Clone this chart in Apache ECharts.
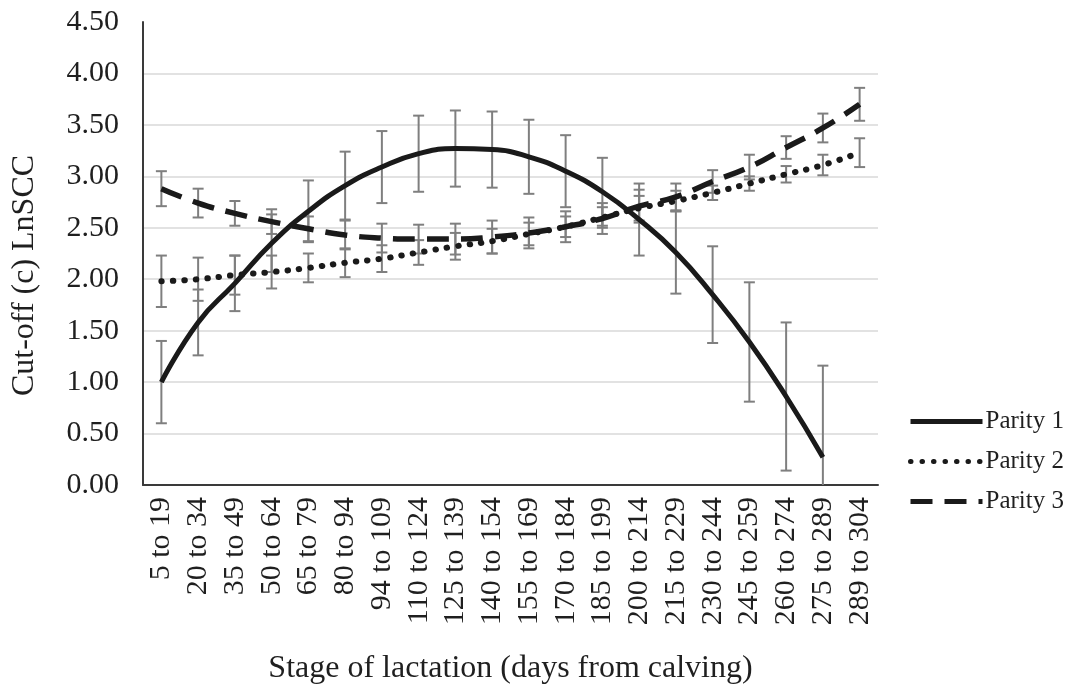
<!DOCTYPE html>
<html><head><meta charset="utf-8">
<script src="https://cdn.jsdelivr.net/npm/echarts@6/dist/echarts.min.js"></script>
<style>html,body{margin:0;padding:0;background:#fff}#c{width:1069px;height:684px}</style>
</head><body><div id="c"></div>
<script>
const categories = ['5 to 19','20 to 34','35 to 49','50 to 64','65 to 79','80 to 94','94 to 109','110 to 124','125 to 139','140 to 154','155 to 169','170 to 184','185 to 199','200 to 214','215 to 229','230 to 244','245 to 259','260 to 274','275 to 289','289 to 304'];
const parity1 = [1.00,1.58,1.96,2.35,2.66,2.91,3.09,3.22,3.27,3.26,3.19,3.05,2.85,2.58,2.26,1.85,1.39,0.86,0.27,null];
const parity1Err = [0.40,0.32,0.27,0.28,0.30,0.33,0.35,0.37,0.37,0.37,0.36,0.35,0.33,0.35,0.40,0.47,0.58,0.72,0.89,null];
const parity2 = [1.98,2.00,2.04,2.07,2.11,2.16,2.20,2.26,2.32,2.37,2.44,2.51,2.60,2.69,2.76,2.84,2.93,3.02,3.11,3.23];
const parity2Err = [0.25,0.21,0.19,0.16,0.14,0.14,0.13,0.12,0.13,0.12,0.11,0.10,0.10,0.12,0.10,0.07,0.07,0.08,0.10,0.14];
const parity3 = [2.88,2.74,2.64,2.56,2.49,2.43,2.40,2.39,2.39,2.41,2.45,2.51,2.59,2.71,2.80,2.95,3.09,3.28,3.47,3.70];
const parity3Err = [0.17,0.14,0.12,0.12,0.12,0.14,0.14,0.14,0.15,0.16,0.15,0.15,0.15,0.16,0.13,0.11,0.12,0.11,0.14,0.16];
const yTicks = {min:0, max:4.5, interval:0.5};

const FONT = 'Liberation Serif';
const TXT = '#1f1f1f';
const LINE = '#1a1a1a';

function errData(vals, errs){
  const out = [];
  vals.forEach((v,i)=>{ if(v!=null && errs[i]!=null) out.push([i, v-errs[i], v+errs[i]]); });
  return out;
}
function renderErr(params, api){
  const x = api.value(0), lo = api.value(1), hi = api.value(2);
  const a = api.coord([x, hi]), b = api.coord([x, lo]);
  const w = 5.5;
  const style = {stroke:'#7f7f7f', lineWidth:2};
  return {type:'group', children:[
    {type:'line', shape:{x1:a[0], y1:a[1], x2:b[0], y2:b[1]}, style:style},
    {type:'line', shape:{x1:a[0]-w, y1:a[1], x2:a[0]+w, y2:a[1]}, style:style},
    {type:'line', shape:{x1:b[0]-w, y1:b[1], x2:b[0]+w, y2:b[1]}, style:style}
  ]};
}
function errSeries(vals, errs){
  return {type:'custom', renderItem:renderErr, data:errData(vals, errs), encode:{x:0, y:[1,2]}, clip:true, z:1, silent:true};
}

const chart = echarts.init(document.getElementById('c'), null, {renderer:'canvas'});
chart.setOption({
  animation:false,
  backgroundColor:'#fff',
  textStyle:{fontFamily:FONT, color:TXT},
  grid:{left:143, right:191, top:22, bottom:199, containLabel:false, outerBoundsMode:'none'},
  legend:{
    orient:'vertical', left:903, top:404, itemWidth:72, itemHeight:20, itemGap:15,
    data:['Parity 1','Parity 2','Parity 3'],
    itemStyle:{color:'rgba(0,0,0,0)', borderColor:'rgba(0,0,0,0)', borderWidth:0},
    lineStyle:{width:5},
    textStyle:{fontFamily:FONT, fontSize:25, color:TXT, padding:[0,0,0,-2]}
  },
  xAxis:{
    type:'category', data:categories, boundaryGap:true,
    axisLine:{lineStyle:{color:'#3a3a3a', width:2}},
    axisTick:{show:false},
    axisLabel:{rotate:90, interval:0, margin:12, fontFamily:FONT, fontSize:30, color:TXT},
    name:'Stage of lactation (days from calving)', nameLocation:'middle', nameGap:168,
    nameTextStyle:{fontFamily:FONT, fontSize:32, color:TXT}
  },
  yAxis:{
    type:'value', min:yTicks.min, max:yTicks.max, interval:yTicks.interval,
    axisLine:{show:true, lineStyle:{color:'#3a3a3a', width:2}},
    axisTick:{show:false},
    splitLine:{show:true, showMaxLine:false, lineStyle:{color:'#d9d9d9', width:1.5}},
    axisLabel:{margin:24, fontFamily:FONT, fontSize:30, color:TXT, formatter:v=>v.toFixed(2)},
    name:'Cut-off (c) LnSCC', nameLocation:'middle', nameGap:102, nameRotate:90,
    nameTextStyle:{fontFamily:FONT, fontSize:32, color:TXT, padding:[0,44,0,0]}
  },
  series:[
    errSeries(parity1, parity1Err),
    errSeries(parity2, parity2Err),
    errSeries(parity3, parity3Err),
    {name:'Parity 1', type:'line', data:parity1, smooth:true, symbol:'none', z:3,
     lineStyle:{color:LINE, width:5}, itemStyle:{color:LINE}},
    {name:'Parity 2', type:'line', data:parity2, smooth:true, symbol:'none', z:3,
     lineStyle:{color:LINE, width:6, type:[0.5,11], cap:'round'}, itemStyle:{color:LINE}},
    {name:'Parity 3', type:'line', data:parity3, smooth:true, symbol:'none', z:3,
     lineStyle:{color:LINE, width:5.5, type:[22,12]}, itemStyle:{color:LINE}}
  ]
});
</script></body></html>
